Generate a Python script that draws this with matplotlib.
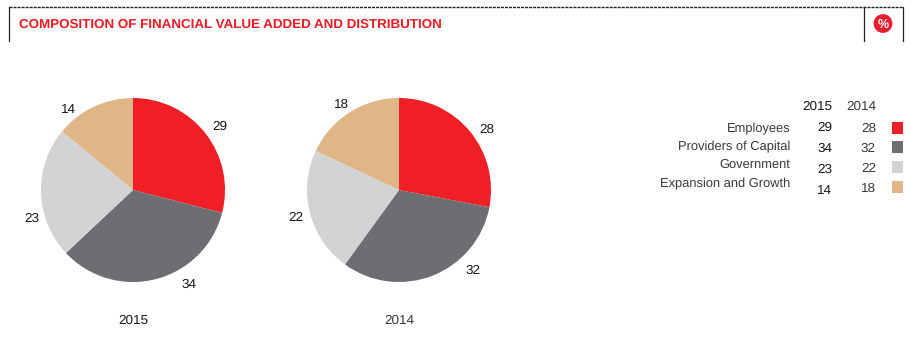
import matplotlib
matplotlib.use("Agg")
import matplotlib.pyplot as plt
from matplotlib.lines import Line2D
from matplotlib.patches import Rectangle, Circle

plt.rcParams['font.family'] = ['Liberation Sans', 'DejaVu Sans']
plt.rcParams['text.hinting'] = 'no_hinting'
plt.rcParams['text.hinting_factor'] = 8

W, H = 911, 352
title = "COMPOSITION OF FINANCIAL VALUE ADDED AND DISTRIBUTION"
categories = ["Employees", "Providers of Capital", "Government", "Expansion and Growth"]
years = ["2015", "2014"]
values_2015 = [29, 34, 23, 14]
values_2014 = [28, 32, 22, 18]
colors = ["#F01F26", "#6D6E71", "#D1D3D4", "#E0B688"]

INK = "#1A1718"
GREY = "#3A3839"
RED = "#ED1C24"

fig = plt.figure(figsize=(W / 100, H / 100), dpi=100, facecolor="white")
bg = fig.add_axes([0, 0, 1, 1])
bg.set_xlim(0, W)
bg.set_ylim(H, 0)
bg.axis("off")

# header frame
bg.add_line(Line2D([8.5, 902.5], [6.5, 6.5], color="#222222", lw=1.0, dashes=(2.2, 0.7)))
for x in (8.5, 863.5, 902.5):
    bg.add_line(Line2D([x, x], [6.5, 40.5], color="#222222", lw=0.9))
bg.text(19, 25, title, color=RED, fontsize=9.6, fontweight="bold", va="center", ha="left")
bg.add_patch(Circle((883, 23.5), 9.4, color="#EC1C2E", lw=0))
bg.text(883, 25, "%", color="white", fontsize=9, fontweight="bold", va="center", ha="center")


def pie(cx, cy, r, vals):
    ax = fig.add_axes([(cx - r) / W, 1 - (cy + r) / H, 2 * r / W, 2 * r / H])
    ax.pie(vals, colors=colors, startangle=90, counterclock=False, radius=1,
           wedgeprops=dict(linewidth=0))
    ax.set_xlim(-1, 1)
    ax.set_ylim(-1, 1)
    ax.axis("off")


pie(133, 190, 92, values_2015)
pie(399, 190, 92, values_2014)

# value labels around the pies
pos_2015 = [(219.5, 126.5), (189, 284.5), (32, 218.5), (68, 109.5)]
pos_2014 = [(487, 129.5), (473, 270.5), (296, 217.5), (341, 104.5)]
for vals, pos in ((values_2015, pos_2015), (values_2014, pos_2014)):
    for v, (x, y) in zip(vals, pos):
        bg.text(x, y, str(v), color=INK, fontsize=9.7, ha="center", va="center")

bg.text(133, 321, years[0], color=INK, fontsize=9.7, ha="center", va="center")
bg.text(399, 321, years[1], color=GREY, fontsize=9.7, ha="center", va="center")

# table legend
bg.text(832.5, 107, years[0], color=INK, fontsize=9.7, ha="right", va="center")
bg.text(876, 107, years[1], color=GREY, fontsize=9.7, ha="right", va="center")
label_y = [129, 147, 165, 184]
val_y_2015 = [128, 148.5, 169.5, 190.5]
val_y_2014 = [129, 149, 169, 189]
swatch_y = [122, 141, 161, 181]
for i, cat in enumerate(categories):
    bg.text(790.5, label_y[i], cat, color=GREY, fontsize=9.25, ha="right", va="center")
    bg.text(832.5, val_y_2015[i], str(values_2015[i]), color=INK, fontsize=9.7, ha="right", va="center")
    bg.text(876, val_y_2014[i], str(values_2014[i]), color=GREY, fontsize=9.7, ha="right", va="center")
    bg.add_patch(Rectangle((892, swatch_y[i]), 11, 12, color=colors[i], lw=0))

fig.savefig("out.png", dpi=100, facecolor="white")
